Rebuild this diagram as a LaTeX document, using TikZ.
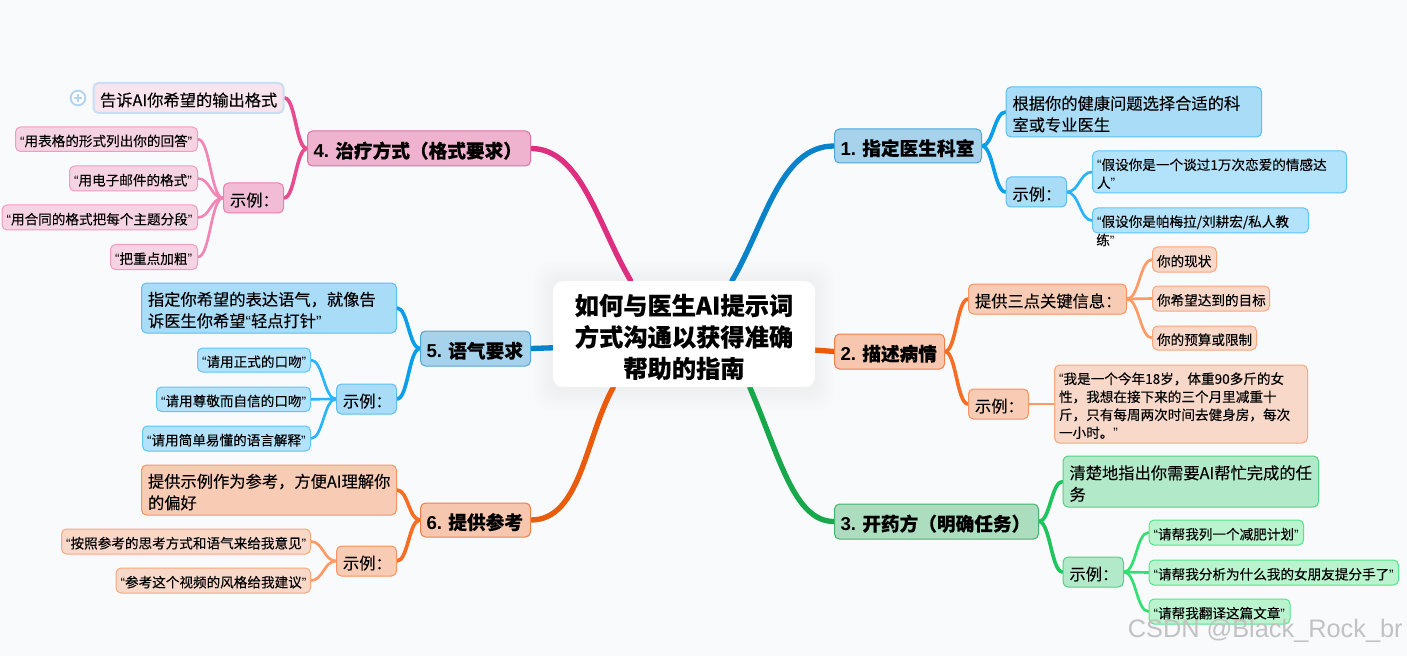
\documentclass[tikz,border=0pt]{standalone}
\usepackage{fontspec}
\usetikzlibrary{backgrounds}
\setmainfont{Noto Sans CJK SC}[FakeBold=0.12]
\newfontfamily\qf{Liberation Sans}
\newcommand\qo{{\qf “}}
\newcommand\qc{{\qf ”}}
\newcommand\nm[1]{{\qf #1.\ }}
\definecolor{bg}{HTML}{F9FAFC}
\definecolor{bA}{HTML}{A6D2EC}\definecolor{bAd}{HTML}{4DA8DC}
\definecolor{bB}{HTML}{A9DCF7}\definecolor{bBd}{HTML}{5BBFF2}
\definecolor{bC}{HTML}{B3E3FB}\definecolor{bCd}{HTML}{5CC5FA}
\definecolor{bLa}{HTML}{0882C8}\definecolor{bLb}{HTML}{0A9FEB}\definecolor{bLc}{HTML}{29B4FB}
\definecolor{oA}{HTML}{F7C6AE}\definecolor{oAd}{HTML}{F0804A}
\definecolor{oB}{HTML}{F8CBB4}\definecolor{oBd}{HTML}{F9935F}
\definecolor{oC}{HTML}{F8D8C8}\definecolor{oCd}{HTML}{FBA77C}
\definecolor{oLa}{HTML}{EB5B0C}\definecolor{oLb}{HTML}{F76D24}\definecolor{oLc}{HTML}{FF9A66}
\definecolor{gA}{HTML}{ADDDBF}\definecolor{gAd}{HTML}{3FB56C}
\definecolor{gB}{HTML}{B2E9C9}\definecolor{gBd}{HTML}{4FD583}
\definecolor{gC}{HTML}{B9F4CF}\definecolor{gCd}{HTML}{52E58A}
\definecolor{gLa}{HTML}{17A84C}\definecolor{gLb}{HTML}{1EC45C}\definecolor{gLc}{HTML}{32DF72}
\definecolor{pA}{HTML}{EFB2CF}\definecolor{pAd}{HTML}{E06FA3}
\definecolor{pB}{HTML}{F2BCD7}\definecolor{pBd}{HTML}{EC7FAF}
\definecolor{pC}{HTML}{F6D3E3}\definecolor{pCd}{HTML}{F19BC2}
\definecolor{pLa}{HTML}{DE2E80}\definecolor{pLb}{HTML}{E84B90}\definecolor{pLc}{HTML}{F285B6}
\definecolor{selb}{HTML}{C8DFF5}\definecolor{selp}{HTML}{F9E4EE}\definecolor{plusc}{HTML}{B4D5F2}
\newcommand\bxpad{6}
\tikzset{
  x=0.75pt,y=0.75pt,
  setpad/.code={\renewcommand\bxpad{#1}},
  box/.style={rectangle,rounded corners=3.75pt,line width=0.75pt,inner ysep=0pt,align=left,text=black},
  lvA/.style={box,setpad=6,font={\fontsize{14pt}{17pt}\selectfont\bfseries}},
  lvB/.style={box,setpad=6.5,font={\fontsize{12.2pt}{16.1pt}\selectfont}},
  lvC/.style={box,setpad=4.5,font={\fontsize{10.2pt}{13.5pt}\selectfont}},
  lin/.style={line cap=round,fill=none},
  mainl/.style={lin,line width=4pt},
  subl/.style={lin,line width=2.7pt},
  leafl/.style={lin,line width=2pt},
}
\newcommand\bx[7]{%
  \pgfmathsetmacro\bxcx{(#2+#4)/2}%
  \pgfmathsetmacro\bxcy{-(#3+#5)/2}%
  \pgfmathsetmacro\bxw{(#4-#2)*0.75}%
  \pgfmathsetmacro\bxh{(#5-#3)*0.75}%
  \node[#6,inner xsep=\bxpad*0.75pt,text width={\bxw*1pt-2*\bxpad*0.75pt-0.75pt},minimum height=\bxh*1pt] (#1) at (\bxcx,\bxcy) {\rule{0pt}{1.1em}#7};%
}
\newcommand\lnk[4]{\draw[#1] (#2) .. controls +(#4,0) and +(-#4,0) .. (#3);}
\begin{document}
\begin{tikzpicture}
\useasboundingbox (0,0) rectangle (1407,-656);
% centre
\node[rectangle,rounded corners=7.5pt,fill=white,inner sep=0pt,minimum width=196.5pt,minimum height=79.5pt,align=center,
  font={\fontsize{18.2pt}{23.6pt}\selectfont\bfseries}] (ctr) at (684,-334)
  {\rule{0pt}{1.1em}如何与医生AI提示词\\方式沟通以获得准确\\帮助的指南};
% branch 1
\bx{nA}{834}{129}{982}{163}{lvA,fill=bA,draw=bAd}{\nm{1}指定医生科室}
\bx{nAa}{1005.5}{87}{1262}{137}{lvB,fill=bB,draw=bBd}{根据你的健康问题选择合适的科\\室或专业医生}
\bx{nAb}{1005.5}{177}{1067}{207}{lvB,fill=bB,draw=bBd}{示例：}
\bx{nAc}{1092}{151}{1347}{193}{lvC,fill=bC,draw=bCd}{\qo 假设你是一个谈过1万次恋爱的情感达\\人\qc}
\bx{nAd}{1092}{208}{1309}{233}{lvC,fill=bC,draw=bCd}{\qo 假设你是帕梅拉/刘耕宏/私人教}
\node[font={\fontsize{10.2pt}{13.5pt}\selectfont},inner sep=0pt,anchor=west] (nAdw) at (1096,-240) {练\qc};
% branch 2
\bx{nB}{834}{334}{945}{369}{lvA,fill=oA,draw=oAd}{\nm{2}描述病情}
\bx{nBa}{968}{284}{1127}{314}{lvB,fill=oB,draw=oBd}{提供三点关键信息：}
\bx{nBb}{968}{389}{1029}{419}{lvB,fill=oB,draw=oBd}{示例：}
\bx{nBc}{1152}{247}{1217}{272}{lvC,fill=oC,draw=oCd}{你的现状}
\bx{nBd}{1152}{286}{1270}{311}{lvC,fill=oC,draw=oCd}{你希望达到的目标}
\bx{nBe}{1152}{326}{1257}{350}{lvC,fill=oC,draw=oCd}{你的预算或限制}
\bx{nBf}{1054}{365}{1308}{443}{lvC,fill=oC,draw=oCd}{\qo 我是一个今年18岁，体重90多斤的女\\性，我想在接下来的三个月里减重十\\斤，只有每周两次时间去健身房，每次\\一小时。\qc}
% branch 3
\bx{nC}{834}{504}{1039}{539}{lvA,fill=gA,draw=gAd}{\nm{3}开药方（明确任务）}
\bx{nCa}{1062.5}{456}{1319}{507}{lvB,fill=gB,draw=gBd}{清楚地指出你需要AI帮忙完成的任\\务}
\bx{nCb}{1062.5}{557}{1124}{587}{lvB,fill=gB,draw=gBd}{示例：}
\bx{nCc}{1148.5}{520}{1304}{545}{lvC,fill=gC,draw=gCd}{\qo 请帮我列一个减肥计划\qc}
\bx{nCd}{1148.5}{560}{1399}{585}{lvC,fill=gC,draw=gCd}{\qo 请帮我分析为什么我的女朋友提分手了\qc}
\bx{nCe}{1148.5}{599}{1290.5}{624}{lvC,fill=gC,draw=gCd}{\qo 请帮我翻译这篇文章\qc}
% branch 4
\bx{nD}{307}{131}{531}{166}{lvA,fill=pA,draw=pAd}{\nm{4}治疗方式（格式要求）}
\bx{nDa}{93}{83}{284}{113}{lvB,fill=selp,draw=selb,line width=1.5pt}{告诉AI你希望的输出格式}
\bx{nDb}{223}{183}{284}{213}{lvB,fill=pB,draw=pBd}{示例：}
\bx{nDc}{15}{127}{198}{151.5}{lvC,fill=pC,draw=pCd}{\qo 用表格的形式列出你的回答\qc}
\bx{nDd}{69}{166}{198}{191}{lvC,fill=pC,draw=pCd}{\qo 用电子邮件的格式\qc}
\bx{nDe}{1.5}{205}{198}{230}{lvC,fill=pC,draw=pCd}{\qo 用合同的格式把每个主题分段\qc}
\bx{nDf}{110}{244.5}{198}{269.5}{lvC,fill=pC,draw=pCd}{\qo 把重点加粗\qc}
\node[circle,draw=plusc,line width=1.5pt,fill=white,minimum size=11pt,inner sep=0pt] (plus) at (78,-98) {};
\draw[plusc,line width=1.5pt] ([xshift=-3.2pt]plus.center) -- ([xshift=3.2pt]plus.center) ([yshift=-3.2pt]plus.center) -- ([yshift=3.2pt]plus.center);
% branch 5
\bx{nE}{420}{331}{531}{366}{lvA,fill=bA,draw=bAd}{\nm{5}语气要求}
\bx{nEa}{141}{283}{397}{333}{lvB,fill=bB,draw=bBd}{指定你希望的表达语气，就像告\\诉医生你希望\qo 轻点打针\qc}
\bx{nEb}{336}{384}{397}{414}{lvB,fill=bB,draw=bBd}{示例：}
\bx{nEc}{197}{348}{311}{372}{lvC,fill=bC,draw=bCd}{\qo 请用正式的口吻\qc}
\bx{nEd}{156}{387}{311}{411.5}{lvC,fill=bC,draw=bCd}{\qo 请用尊敬而自信的口吻\qc}
\bx{nEe}{142}{426}{311}{451}{lvC,fill=bC,draw=bCd}{\qo 请用简单易懂的语言解释\qc}
% branch 6
\bx{nF}{420}{503}{531}{537}{lvA,fill=oA,draw=oAd}{\nm{6}提供参考}
\bx{nFa}{141}{465}{397}{515}{lvB,fill=oB,draw=oBd}{提供示例作为参考，方便AI理解你\\的偏好}
\bx{nFb}{336}{546}{397}{576}{lvB,fill=oB,draw=oBd}{示例：}
\bx{nFc}{61}{529}{311}{554}{lvC,fill=oC,draw=oCd}{\qo 按照参考的思考方式和语气来给我意见\qc}
\bx{nFd}{115.5}{568}{311}{593}{lvC,fill=oC,draw=oCd}{\qo 参考这个视频的风格给我建议\qc}
% watermark
\node[font={\fontsize{19pt}{24pt}\selectfont\qf},text=black!24,inner sep=0pt,anchor=east] (wm) at (1403,-631) {CSDN @Black\_Rock\_br};
\begin{scope}[on background layer]
  \fill[bg] (0,0) rectangle (1407,-656);
  \foreach \s in {2,4,...,20}{
    \fill[black,opacity=0.003,rounded corners=12pt] ([xshift=-\s*0.75pt,yshift=\s*0.75pt]ctr.north west) rectangle ([xshift=\s*0.75pt,yshift=-\s*0.75pt-3pt]ctr.south east);
  }
  % main branches
  \draw[mainl,bLa] (ctr.48) .. controls +(33,56) and +(-54,0) .. (nA.west);
  \draw[mainl,oLa] (ctr.-7) -- (nB.west);
  \draw[mainl,gLa] (ctr.-39) .. controls +(30,-70) and +(-40,0) .. (nC.west);
  \draw[mainl,pLa] (nD.east) .. controls +(50,0) and +(-33,56) .. (ctr.135);
  \draw[mainl,bLa] (nE.east) -- (ctr.186);
  \draw[mainl,oLa] (nF.east) .. controls +(50,0) and +(-28,-50) .. (ctr.-143);
  % second level
  \lnk{subl,bLb}{nA.east}{nAa.west}{11}
  \lnk{subl,bLb}{nA.east}{nAb.west}{11}
  \lnk{subl,oLb}{nB.east}{nBa.west}{11}
  \lnk{subl,oLb}{nB.east}{nBb.west}{11}
  \lnk{subl,gLb}{nC.east}{nCa.west}{11}
  \lnk{subl,gLb}{nC.east}{nCb.west}{11}
  \lnk{subl,pLb}{nDa.east}{nD.west}{11}
  \lnk{subl,pLb}{nDb.east}{nD.west}{11}
  \lnk{subl,bLb}{nEa.east}{nE.west}{11}
  \lnk{subl,bLb}{nEb.east}{nE.west}{11}
  \lnk{subl,oLb}{nFa.east}{nF.west}{11}
  \lnk{subl,oLb}{nFb.east}{nF.west}{11}
  % third level
  \lnk{leafl,bLc}{nAb.east}{nAc.west}{12}
  \lnk{leafl,bLc}{nAb.east}{nAd.west}{12}
  \lnk{leafl,oLc}{nBa.east}{nBc.west}{12}
  \lnk{leafl,oLc}{nBa.east}{nBd.west}{12}
  \lnk{leafl,oLc}{nBa.east}{nBe.west}{12}
  \draw[leafl,oLc] (nBb.east) -- (nBf.west |- nBb.east);
  \lnk{leafl,gLc}{nCb.east}{nCc.west}{12}
  \lnk{leafl,gLc}{nCb.east}{nCd.west}{12}
  \lnk{leafl,gLc}{nCb.east}{nCe.west}{12}
  \lnk{leafl,pLc}{nDc.east}{nDb.west}{12}
  \lnk{leafl,pLc}{nDd.east}{nDb.west}{12}
  \lnk{leafl,pLc}{nDe.east}{nDb.west}{12}
  \lnk{leafl,pLc}{nDf.east}{nDb.west}{12}
  \lnk{leafl,bLc}{nEc.east}{nEb.west}{12}
  \lnk{leafl,bLc}{nEd.east}{nEb.west}{12}
  \lnk{leafl,bLc}{nEe.east}{nEb.west}{12}
  \lnk{leafl,oLc}{nFc.east}{nFb.west}{12}
  \lnk{leafl,oLc}{nFd.east}{nFb.west}{12}
\end{scope}
\end{tikzpicture}
\end{document}
